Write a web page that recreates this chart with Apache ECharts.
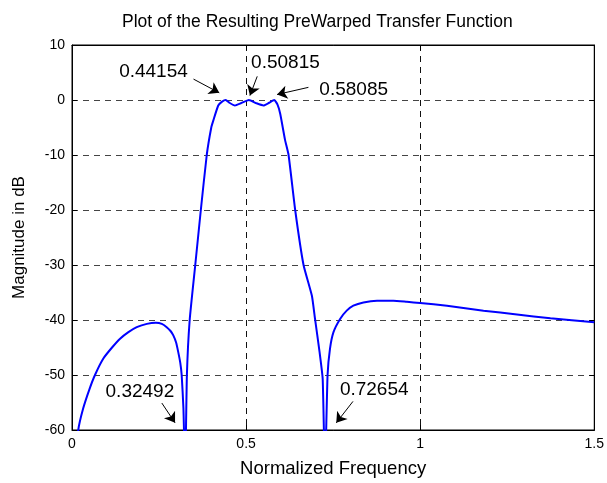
<!DOCTYPE html>
<html>
<head>
<meta charset="utf-8">
<script src="https://cdn.jsdelivr.net/npm/echarts@6/dist/echarts.min.js"></script>
<style>
  html, body { margin: 0; padding: 0; background: #fff; }
  #main { width: 607px; height: 483px; }
</style>
</head>
<body>
<div id="main"></div>
<script>
// frequency response
var freq = [0.012, 0.018, 0.032, 0.050, 0.066, 0.090, 0.115, 0.138, 0.162, 0.186,
            0.215, 0.241, 0.258, 0.272, 0.283, 0.291, 0.299, 0.305, 0.311, 0.315,
            0.320, 0.3249, 0.330, 0.338, 0.354, 0.370, 0.387, 0.400, 0.406, 0.420,
            0.431, 0.4415, 0.452, 0.468, 0.485, 0.508, 0.530, 0.550, 0.566, 0.5808,
            0.590, 0.598, 0.612, 0.622, 0.641, 0.665, 0.689, 0.698, 0.711, 0.720,
            0.7265, 0.734, 0.741, 0.751, 0.770, 0.789, 0.808, 0.837, 0.876, 0.923,
            0.962, 1.0, 1.077, 1.182, 1.278, 1.374, 1.5];
var magDb = [-66, -60, -56.1, -52.6, -50, -47, -45, -43.4, -42.2, -41.3,
             -40.7, -40.5, -40.7, -41.3, -42.0, -42.8, -44.1, -45.8, -47.8, -50,
             -56, -68, -50, -40, -30, -20, -10, -5, -3.7, -1.0,
             -0.3, 0, -0.5, -1.0, -0.6, 0, -0.6, -1.0, -0.5, 0,
             -0.8, -2.5, -7.3, -10, -20, -30, -35.6, -39.8, -45.8, -50.7,
             -68, -50, -45.2, -42.2, -39.8, -38.3, -37.4, -36.8, -36.5, -36.5,
             -36.7, -36.9, -37.4, -38.3, -39.0, -39.7, -40.4];

// annotations: label text, label position, arrow start, arrow tip
var noteText = ['0.44154', '0.50815', '0.58085', '0.32492', '0.72654'];
var notePos = [[0.234, 5.2], [0.613, 6.8], [0.809, 1.95], [0.195, -53.1], [0.868, -52.7]];
var arrowFrom = [[0.349, 3.8], [0.532, 4.3], [0.679, 2.3], [0.258, -55.1], [0.807, -54.8]];
var arrowTo = [[0.423, 1.3], [0.511, 0.8], [0.589, 1.0], [0.296, -58.7], [0.759, -58.7]];

var xTicks = [0, 1.5, 0.5];   // min, max, step
var yTicks = [-60, 10, 10];

var FONT = 'Liberation Sans, Arial, sans-serif';

var lineData = [];
for (var i = 0; i < freq.length; i++) {
    lineData.push([freq[i], magDb[i]]);
}
var labelData = [];
var arrowData = [];
for (var j = 0; j < noteText.length; j++) {
    labelData.push({ name: noteText[j], value: notePos[j] });
    arrowData.push({ coords: [arrowFrom[j], arrowTo[j]] });
}

var myChart = echarts.init(document.getElementById('main'));
var option = {
    animation: false,
    backgroundColor: '#fff',
    title: {
        text: 'Plot of the Resulting PreWarped Transfer Function',
        left: 117,
        top: 8,
        textStyle: { fontFamily: FONT, fontSize: 17.5, fontWeight: 'normal', color: '#000' }
    },
    grid: {
        left: 72, right: 11, top: 45, bottom: 51,
        show: true, borderColor: '#000', borderWidth: 1
    },
    xAxis: [{
        type: 'value',
        min: xTicks[0], max: xTicks[1], interval: xTicks[2],
        name: 'Normalized Frequency',
        nameLocation: 'middle',
        nameGap: 29,
        nameTextStyle: { fontFamily: FONT, fontSize: 18.5, color: '#000' },
        axisLine: { onZero: false, lineStyle: { color: '#000' } },
        axisTick: { inside: true, length: 5, lineStyle: { color: '#000' } },
        axisLabel: { fontFamily: FONT, fontSize: 14, color: '#000', margin: 7 },
        splitLine: { show: true, lineStyle: { color: '#111', type: [6, 5] } }
    }, {
        type: 'value', position: 'top',
        min: xTicks[0], max: xTicks[1], interval: xTicks[2],
        axisLine: { onZero: false, lineStyle: { color: '#000' } },
        axisTick: { inside: true, length: 5, lineStyle: { color: '#000' } },
        axisLabel: { show: false },
        splitLine: { show: false }
    }],
    yAxis: [{
        type: 'value',
        min: yTicks[0], max: yTicks[1], interval: yTicks[2],
        name: 'Magnitude in dB',
        nameLocation: 'middle',
        nameGap: 44,
        nameTextStyle: { fontFamily: FONT, fontSize: 17, color: '#000' },
        axisLine: { show: true, onZero: false, lineStyle: { color: '#000' } },
        axisTick: { show: true, inside: true, length: 5, lineStyle: { color: '#000' } },
        axisLabel: { fontFamily: FONT, fontSize: 14, color: '#000', margin: 7 },
        splitLine: { show: true, lineStyle: { color: '#444', type: [6, 5] } }
    }, {
        type: 'value', position: 'right',
        min: yTicks[0], max: yTicks[1], interval: yTicks[2],
        axisLine: { show: true, onZero: false, lineStyle: { color: '#000' } },
        axisTick: { show: true, inside: true, length: 5, lineStyle: { color: '#000' } },
        axisLabel: { show: false },
        splitLine: { show: false }
    }],
    series: [{
        type: 'line',
        data: lineData,
        showSymbol: false,
        clip: true,
        smooth: 0.15,
        lineStyle: { color: '#0000ff', width: 2 },
        z: 3
    }, {
        type: 'lines',
        coordinateSystem: 'cartesian2d',
        data: arrowData,
        symbol: ['none', 'arrow'],
        symbolSize: 10,
        lineStyle: { color: '#000', width: 1, opacity: 1 },
        z: 4
    }, {
        type: 'scatter',
        data: labelData,
        symbolSize: 0,
        label: {
            show: true,
            position: 'inside',
            formatter: '{b}',
            fontFamily: FONT,
            fontSize: 19,
            color: '#000',
            opacity: 1
        },
        z: 5
    }]
};
myChart.setOption(option);
</script>
</body>
</html>
